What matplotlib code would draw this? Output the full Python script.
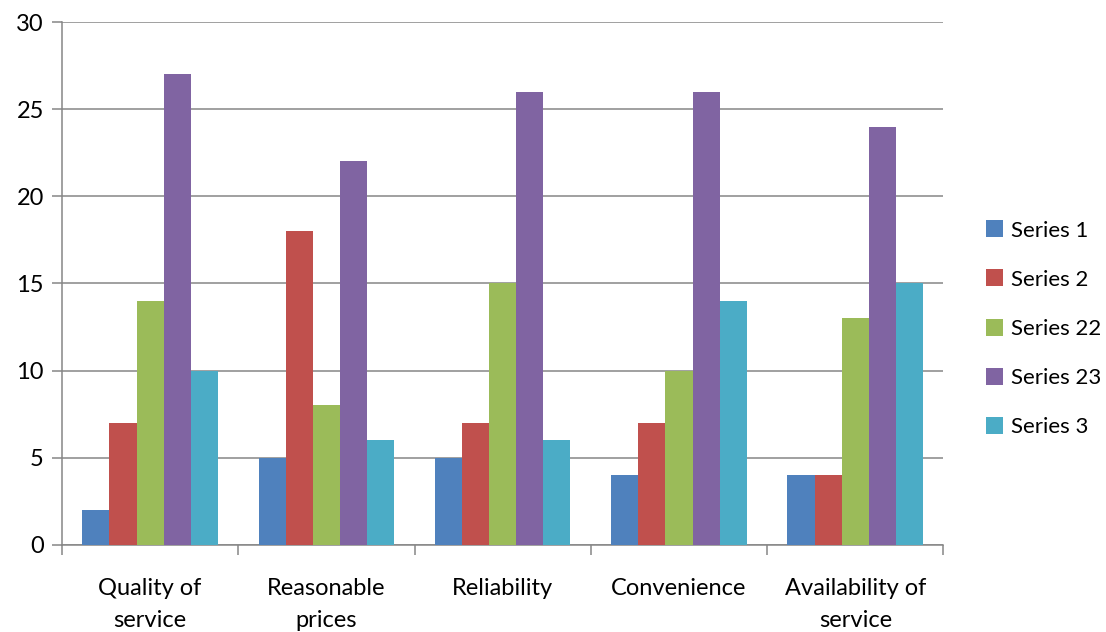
import numpy as np
import matplotlib.pyplot as plt

plt.rcParams['font.family'] = ['Lato', 'DejaVu Sans']

categories = ['Quality of\nservice', 'Reasonable\nprices', 'Reliability', 'Convenience', 'Availability of\nservice']
series_names = ['Series 1', 'Series 2', 'Series 22', 'Series 23', 'Series 3']
series_1 = [2, 5, 5, 4, 4]
series_2 = [7, 18, 7, 7, 4]
series_22 = [14, 8, 15, 10, 13]
series_23 = [27, 22, 26, 26, 24]
series_3 = [10, 6, 6, 14, 15]
colors = ['#4F81BD', '#C0504D', '#9BBB59', '#8064A2', '#4BACC6']

grid_color = '#868686'

fig = plt.figure(figsize=(11.06, 6.32), dpi=100)
ax = fig.add_axes([0.056, 0.138, 0.797, 0.827])

x = np.arange(len(categories))
width = 1 / 6.5
handles = []
for i, (vals, name, c) in enumerate(zip([series_1, series_2, series_22, series_23, series_3], series_names, colors)):
    b = ax.bar(x + (i - 2) * width, vals, width, color=c, label=name, zorder=3)
    handles.append(b)

ax.set_xlim(-0.5, len(categories) - 0.5)
ax.set_ylim(0, 30)
ax.set_yticks(range(0, 31, 5))
ax.yaxis.grid(True, color=grid_color, lw=1.1, zorder=0)

ax.set_xticks(x)
ax.set_xticklabels(categories, fontsize=17, linespacing=1.65)
ax.set_xticks(np.arange(-0.5, len(categories)), minor=True)
ax.tick_params(axis='x', which='major', length=0, pad=24)
ax.tick_params(axis='x', which='minor', length=7, width=1.1, color=grid_color)
ax.tick_params(axis='y', length=7, width=1.1, color=grid_color, labelsize=17, pad=6)

for s in ['top', 'right']:
    ax.spines[s].set_visible(False)
for s in ['left', 'bottom']:
    ax.spines[s].set_color(grid_color)
    ax.spines[s].set_linewidth(1.1)

fig.legend(handles=handles, loc='center left', bbox_to_anchor=(0.873, 0.48),
           frameon=False, fontsize=16, handlelength=0.8, handleheight=0.8,
           handletextpad=0.35, labelspacing=1.3)

fig.savefig('out.png', dpi=100)
